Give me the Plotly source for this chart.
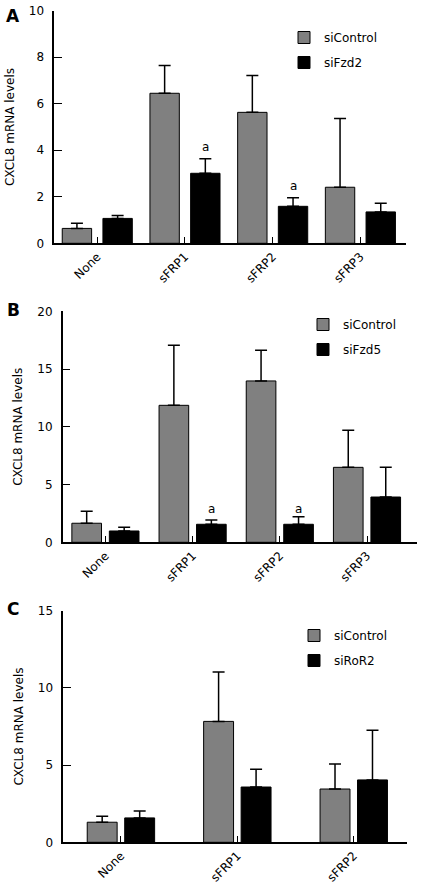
import plotly.graph_objects as go

W, H = 427, 891

# ---------------- data ----------------
cats_ab = ["None", "sFRP1", "sFRP2", "sFRP3"]
cats_c = ["None", "sFRP1", "sFRP2"]

a_ctrl = [0.64, 6.45, 5.63, 2.41]
a_ctrl_sd = [0.22, 1.19, 1.58, 2.96]
a_fzd2 = [1.07, 3.01, 1.59, 1.35]
a_fzd2_sd = [0.12, 0.63, 0.37, 0.37]

b_ctrl = [1.65, 11.86, 13.97, 6.49]
b_ctrl_sd = [1.03, 5.20, 2.65, 3.21]
b_fzd5 = [0.98, 1.56, 1.56, 3.92]
b_fzd5_sd = [0.32, 0.37, 0.66, 2.57]

c_ctrl = [1.30, 7.83, 3.45]
c_ctrl_sd = [0.38, 3.20, 1.62]
c_ror2 = [1.58, 3.58, 4.04]
c_ror2_sd = [0.45, 1.15, 3.21]

# significance marks: (category index, y position of the "a")
a_sig = [(1, 4.15), (2, 2.48)]
b_sig = [(1, 2.9), (2, 2.9)]

FONT = "DejaVu Sans"
GRAY = "#808080"


def px_x(p):
    return p / W


def px_y(p):
    return 1 - p / H


fig = go.Figure()

panels = [
    dict(name="A", xa="x", ya="y", cats=cats_ab, s1=a_ctrl, e1=a_ctrl_sd, s2=a_fzd2, e2=a_fzd2_sd,
         lab2="siFzd2", sig=a_sig, xdom=(54.3, 406), ydom=(10.7, 243.3), yr=10, dt=2,
         xr=(-0.49, 3.52), bw=0.335, off=0.232, leg="legend", legpos=(284, 23), letter_y=16),
    dict(name="B", xa="x2", ya="y2", cats=cats_ab, s1=b_ctrl, e1=b_ctrl_sd, s2=b_fzd5, e2=b_fzd5_sd,
         lab2="siFzd5", sig=b_sig, xdom=(62.7, 416.7), ydom=(311.3, 542.3), yr=20, dt=5,
         xr=(-0.49, 3.57), bw=0.34, off=0.215, leg="legend2", legpos=(303, 310), letter_y=310),
    dict(name="C", xa="x3", ya="y3", cats=cats_c, s1=c_ctrl, e1=c_ctrl_sd, s2=c_ror2, e2=c_ror2_sd,
         lab2="siRoR2", sig=[], xdom=(63.3, 407.3), ydom=(610.7, 842.3), yr=15, dt=5,
         xr=(-0.495, 2.46), bw=0.257, off=0.161, leg="legend3", legpos=(294, 621), letter_y=609),
]

layout_axes = {}
annotations = []
legends = {}

for i, p in enumerate(panels):
    xs = list(range(len(p["cats"])))
    for k, (vals, sd, lab, col) in enumerate([(p["s1"], p["e1"], "siControl", GRAY),
                                              (p["s2"], p["e2"], p["lab2"], "black")]):
        offset = (-p["off"] if k == 0 else p["off"]) - p["bw"] / 2
        fig.add_trace(go.Bar(
            x=xs, y=vals, width=p["bw"], offset=offset,
            marker=dict(color=col, line=dict(color="black", width=1)),
            error_y=dict(type="data", array=sd, arrayminus=[0] * len(sd), symmetric=False,
                         color="black", thickness=1.5, width=6),
            name=lab, xaxis=p["xa"], yaxis=p["ya"], legend=p["leg"],
            legendgroup=p["name"] + lab,
        ))
    suffix = "" if i == 0 else str(i + 1)
    layout_axes["xaxis" + suffix] = dict(
        domain=[px_x(p["xdom"][0]), px_x(p["xdom"][1])], anchor="y" + suffix,
        range=list(p["xr"]), tickvals=xs, ticktext=p["cats"], tickangle=-45,
        ticks="inside", ticklen=7, tickwidth=1.2, tickcolor="black",
        showline=True, linecolor="black", linewidth=1.5, showgrid=False, zeroline=False,
        tickfont=dict(family=FONT, size=12, color="black"), automargin=False,
    )
    layout_axes["yaxis" + suffix] = dict(
        domain=[px_y(p["ydom"][1]), px_y(p["ydom"][0])], anchor="x" + suffix,
        range=[0, p["yr"]], dtick=p["dt"], tick0=0,
        ticks="inside", ticklen=8, tickwidth=1.2, tickcolor="black",
        showline=True, linecolor="black", linewidth=1.5, showgrid=False, zeroline=False,
        tickfont=dict(family=FONT, size=12, color="black"), ticklabelstandoff=6,
        title=dict(text="CXCL8 mRNA levels", font=dict(family=FONT, size=12, color="black"),
                   standoff=12),
        automargin=False,
    )
    for (ci, yv) in p["sig"]:
        annotations.append(dict(x=ci + p["off"], y=yv, xref=p["xa"], yref=p["ya"], text="a",
                                showarrow=False, font=dict(family=FONT, size=12, color="black")))
    annotations.append(dict(x=px_x(13), y=px_y(p["letter_y"]), xref="paper", yref="paper",
                            xanchor="center", yanchor="middle",
                            text="<b>" + p["name"] + "</b>", showarrow=False,
                            font=dict(family=FONT, size=17, color="black")))
    legends[p["leg"]] = dict(x=px_x(p["legpos"][0]), y=px_y(p["legpos"][1]), xanchor="left",
                             yanchor="top", bgcolor="rgba(0,0,0,0)",
                             font=dict(family=FONT, size=12, color="black"),
                             traceorder="grouped", tracegroupgap=6)

fig.update_layout(
    width=W, height=H, margin=dict(l=0, r=0, t=0, b=0),
    paper_bgcolor="white", plot_bgcolor="white",
    showlegend=True, annotations=annotations,
    **layout_axes, **legends,
)

# remove the browser's default 8px page margin so the figure fills the window exactly
fig.write_html("out.html", config={"displayModeBar": False},
               post_script="document.body.style.margin='0';")
